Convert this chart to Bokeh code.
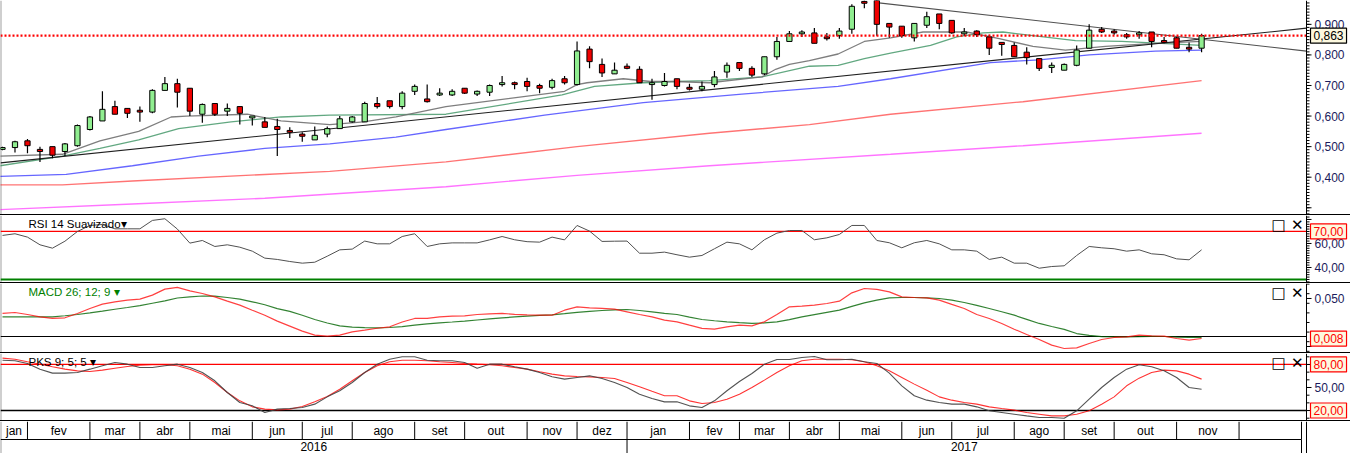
import numpy as np
from bokeh.plotting import figure
from bokeh.layouts import column
from bokeh.models import Range1d, Label, Div, ColumnDataSource
from bokeh.embed import file_html
from bokeh.resources import INLINE
from bokeh.core.properties import value

FONT = "Liberation Sans"

# ---------------- data (weekly candles, week 0 = 2016-01-18) ----------------
weeks = list(range(97))
opens = [0.491,0.497,0.519,0.491,0.500,0.484,0.503,0.556,0.584,0.631,
         0.625,0.619,0.613,0.684,0.706,0.691,0.606,0.641,0.616,0.631,
         0.594,0.581,0.566,0.553,0.541,0.522,0.541,0.559,0.581,0.581,
         0.641,0.650,0.631,0.681,0.656,0.669,0.669,0.691,0.672,0.678,
         0.703,0.709,0.713,0.700,0.694,0.722,0.703,0.819,0.769,0.738,
         0.763,0.753,0.703,0.700,0.722,0.694,0.688,0.703,0.744,0.775,
         0.756,0.738,0.794,0.844,0.869,0.872,0.859,0.863,0.884,0.975,
         0.985,0.903,0.894,0.856,0.897,0.934,0.913,0.869,0.878,0.859,
         0.841,0.831,0.809,0.788,0.759,0.750,0.766,0.822,0.884,0.878,
         0.866,0.866,0.875,0.847,0.856,0.825,0.822]
highs = [0.500,0.519,0.525,0.500,0.500,0.512,0.572,0.600,0.681,0.650,
         0.625,0.631,0.688,0.728,0.722,0.691,0.641,0.641,0.641,0.631,
         0.600,0.597,0.591,0.563,0.547,0.566,0.566,0.600,0.600,0.647,
         0.662,0.650,0.681,0.703,0.703,0.691,0.688,0.691,0.684,0.703,
         0.731,0.713,0.725,0.706,0.722,0.731,0.844,0.828,0.788,0.775,
         0.772,0.763,0.722,0.741,0.722,0.706,0.713,0.747,0.775,0.775,
         0.763,0.794,0.859,0.878,0.881,0.888,0.872,0.888,0.966,0.978,
         0.990,0.903,0.894,0.903,0.941,0.934,0.913,0.888,0.881,0.866,
         0.841,0.841,0.825,0.788,0.775,0.772,0.831,0.900,0.891,0.884,
         0.872,0.878,0.875,0.859,0.859,0.841,0.869]
lows = [0.488,0.481,0.478,0.450,0.462,0.469,0.500,0.553,0.584,0.606,
        0.594,0.581,0.609,0.684,0.628,0.600,0.578,0.600,0.600,0.572,
        0.569,0.563,0.469,0.528,0.516,0.522,0.531,0.559,0.578,0.581,
        0.625,0.625,0.622,0.669,0.644,0.666,0.666,0.672,0.666,0.666,
        0.697,0.688,0.681,0.675,0.688,0.703,0.700,0.756,0.728,0.738,
        0.753,0.709,0.653,0.697,0.688,0.684,0.681,0.694,0.725,0.747,
        0.728,0.734,0.784,0.844,0.859,0.838,0.847,0.853,0.869,0.953,
        0.863,0.856,0.856,0.844,0.888,0.884,0.869,0.863,0.859,0.800,
        0.797,0.794,0.769,0.747,0.741,0.750,0.763,0.822,0.872,0.866,
        0.853,0.853,0.825,0.838,0.822,0.809,0.809]
closes = [0.497,0.516,0.503,0.484,0.472,0.509,0.569,0.597,0.622,0.606,
          0.609,0.613,0.684,0.706,0.678,0.616,0.638,0.606,0.625,0.609,
          0.600,0.563,0.556,0.547,0.534,0.537,0.559,0.591,0.597,0.641,
          0.631,0.631,0.675,0.697,0.647,0.675,0.681,0.675,0.681,0.700,
          0.709,0.703,0.697,0.691,0.716,0.709,0.813,0.778,0.741,0.750,
          0.756,0.709,0.709,0.713,0.697,0.688,0.697,0.728,0.766,0.756,
          0.734,0.794,0.844,0.869,0.875,0.838,0.853,0.878,0.959,0.969,
          0.900,0.891,0.863,0.903,0.925,0.903,0.872,0.875,0.866,0.822,
          0.834,0.794,0.791,0.756,0.766,0.769,0.816,0.881,0.875,0.872,
          0.859,0.872,0.844,0.841,0.822,0.819,0.863]

# moving averages (week index, price)
ma_fast_x = [-0.2,4.8,7.8,10.9,13.5,14.7,19.6,22.3,26.2,28.9,31.5,35.5,45,46,46.8,49.7,51.9,
             53.9,56.6,60.8,61.9,63,64.6,66.9,69,71.1,73.7,77.2,79.8,82.5,85.1,88.3,92.3,96]
ma_fast_y = [0.469,0.475,0.519,0.550,0.597,0.600,0.606,0.584,0.572,0.581,0.597,0.631,0.681,
             0.703,0.709,0.722,0.713,0.713,0.709,0.728,0.753,0.769,0.781,0.803,0.844,0.856,
             0.875,0.875,0.853,0.828,0.816,0.828,0.838,0.844]
ma_green_x = [-0.2,4.8,7.8,10.9,14.1,18.3,22.3,26.2,35.5,44.8,47.4,51.3,53.9,56.6,60.8,64.6,
              66.9,69,71.1,74.3,76.4,78.5,80.1,82.5,85.9,89.6,96]
ma_green_y = [0.4375,0.469,0.494,0.522,0.559,0.581,0.597,0.603,0.606,0.669,0.697,0.709,0.713,
              0.716,0.728,0.763,0.766,0.788,0.806,0.831,0.859,0.872,0.875,0.863,0.847,0.844,0.831]
ma_blue_x = [-0.2,5.1,10.4,15.7,21,26.2,31.5,35.5,43.4,51.3,59.2,66.9,71.1,79.1,83,87,92.3,96]
ma_blue_y = [0.403,0.409,0.4375,0.469,0.494,0.509,0.531,0.556,0.603,0.644,0.672,0.697,0.722,
             0.775,0.784,0.800,0.8125,0.816]
ma_red_x = [-0.2,4.8,10.4,21,26.2,35.5,46,56.6,64.6,71.1,81.7,96]
ma_red_y = [0.375,0.375,0.3875,0.409,0.419,0.450,0.500,0.544,0.572,0.606,0.647,0.716]
ma_mag_x = [-0.2,10.4,21,35.5,46,56.6,71.1,81.7,96]
ma_mag_y = [0.294,0.3125,0.331,0.369,0.406,0.4375,0.475,0.503,0.544]

# trend lines (two anchor points each)
trend_up_x = [-0.16, 104.4]
trend_up_y = [0.447, 0.8875]
trend_dn_x = [69.8, 104.4]
trend_dn_y = [0.972, 0.8125]

# RSI 14 smoothed
rsi = [66.7,68.1,65.3,58.9,56.1,61.9,70,75,75.8,72.2,72.2,72.2,79.2,80.6,72,60.3,62.5,57.5,
       58.9,56.9,53.6,47.8,46.7,45,43.6,44.4,49.4,54.7,55.3,62,59.7,59.7,65.8,68.1,57.5,59.7,
       60.5,60.5,60.5,63,65.8,63.1,61.5,61.1,65.3,63,75,70.3,61.7,61.9,62,51.9,51.9,52.8,
       50.6,48.6,50,55.6,61.1,59.7,54.7,63.1,68.6,70.8,70.8,63.1,64.7,67.5,75,75,62.5,60.6,
       56.4,60.6,62.5,59.7,54.7,54.7,53.6,46.7,48.6,43.6,43.6,39.4,40.8,41.4,50,57.5,56.4,
       55.6,53.6,54.7,51.4,50.6,47.2,46.4,54.7]
rsi_hi, rsi_lo = 70, 30

# MACD 26;12;9
macd = [0.0344,0.0354,0.0333,0.0309,0.0292,0.0299,0.0344,0.0396,0.0441,0.0465,0.0483,0.0493,
        0.0535,0.0597,0.0615,0.0580,0.0552,0.0517,0.0472,0.0431,0.0378,0.0326,0.0264,0.0212,
        0.0160,0.0118,0.0108,0.0118,0.0153,0.0170,0.0190,0.0205,0.0255,0.0292,0.0292,0.0309,
        0.0316,0.0319,0.0333,0.0340,0.0344,0.0335,0.0330,0.0326,0.0326,0.0378,0.0413,0.0403,
        0.0396,0.0389,0.0361,0.0333,0.0309,0.0275,
        0.0257,0.0222,0.0188,0.0180,0.0205,0.0222,0.0215,0.0257,0.0333,0.0413,0.0420,0.0431,
        0.0448,0.0472,0.0559,0.0604,0.0594,0.0569,0.0517,0.0510,0.0507,0.0483,0.0438,0.0396,
        0.0333,0.0292,0.0240,0.0180,0.0125,0.0073,0.0014,-0.0021,-0.0014,0.0031,0.0073,0.0094,
        0.0101,0.0118,0.0111,0.0108,0.0083,0.0066,0.0083]
macd_signal = [0.0309,0.0309,0.0309,0.0309,0.0309,0.0320,0.0333,0.0350,0.0368,0.0388,0.0406,
               0.0425,0.0450,0.0475,0.0505,0.0517,0.0526,0.0524,0.0510,0.0493,0.0465,0.0435,
               0.0395,0.0365,0.0325,0.0281,0.0245,0.0215,0.0202,0.0196,0.0194,0.0198,0.0207,
               0.0222,0.0235,0.0246,0.0255,0.0265,0.0276,0.0287,0.0298,0.0308,0.0316,0.0324,
               0.0330,0.0342,0.0355,0.0366,0.0375,0.0382,0.0385,0.0375,0.0361,0.0345,
               0.0333,0.0305,0.0281,0.0268,0.0257,0.0248,0.0240,0.0245,0.0257,0.0280,0.0309,
               0.0332,0.0355,0.0378,0.0418,0.0455,0.0483,0.0507,0.0510,0.0510,0.0506,0.0500,
               0.0482,0.0458,0.0428,0.0396,0.0362,0.0326,0.0283,0.0240,0.0208,0.0178,0.0135,
               0.0115,0.0103,0.0101,0.0101,0.0102,0.0106,0.0104,0.0097,0.0094,0.0094]
macd_level = 0.0104

# PKS 9;5;5
pks_k = [85.6,84.8,81.3,73.9,68.7,68.7,69.6,73.9,78.3,82.6,80.4,76.1,76.1,78.3,80.4,76.1,69.6,
         58.7,43.5,30.5,26.1,17.4,21.8,22.6,23.9,28.3,37.8,45.7,56.5,69.6,80.4,86.9,90,90,85.6,
         84.8,84.8,82.6,75.2,80.4,80.4,77,73.9,69.6,63.9,60.9,63,65.2,61.7,56.5,50,41.3,35.7,
         31.3,
         31.3,26.1,23.9,32.6,45.7,57.8,68.3,80.4,86.5,86.5,89.1,90.4,86.1,86.1,86.9,83.5,81.3,
         68.7,52.2,39.2,33.5,30.5,28.3,28.3,24.8,19.6,17.4,15.2,13,10.9,10.9,10,19.6,34.8,50,
         63,73.9,79.6,77,71.7,63,50,47.8]
pks_d = [88.3,86.9,83.5,80.4,77,73.9,71.7,70.9,72.6,75,77.4,79.1,79.6,79.6,78.3,73.9,67.4,
         56.5,43.5,32.6,24.8,21.8,20.9,21.8,25.2,31.3,38.3,47.8,58.7,69.6,78.3,83.5,85.6,85.6,
         84.8,83.5,82.6,81.3,80.4,79.6,78.3,76.1,73.9,70.5,67.4,65.2,64.4,63.9,63,61.7,56.5,
         50.9,45,39.2,
         39.2,32.6,29.2,30.5,34.8,41.3,50,59.6,69.6,78.3,84.8,86.9,86.9,86.9,86.1,83.5,78.3,
         71.7,63,54.4,46.5,37.8,33.5,30.5,28.3,24.8,22.6,20.5,17.4,15.2,13,13,15.2,19.6,28.3,
         37.8,52.2,62.2,69.6,72.6,71.7,67.4,60.9]
pks_hi, pks_lo = 80, 20

# axis tick values
price_ticks = [0.4, 0.5, 0.6, 0.7, 0.8, 0.9]
rsi_ticks = [40, 60]
macd_ticks = [0.05]
pks_ticks = [50]

# date axis cells (first week index of each month)
month_labels = ["jan","fev","mar","abr","mai","jun","jul","ago","set","out","nov","dez",
                "jan","fev","mar","abr","mai","jun","jul","ago","set","out","nov",""]
month_start = [-0.16,2,7,11,15,20,24,28,33,37,42,46,50,55,59,63,67,72,76,81,85,89,94,99]
axis_end = 104.0
year_labels = ["2016", "2017"]
year_start = [-0.16, 50]

# ---------------- layout ----------------
W = 1350
PLOT_W = 1306
X0, AXIS_X = -0.16, 104.4
PX = (AXIS_X - X0) / PLOT_W            # weeks per screen pixel
xr = Range1d(X0, X0 + W * PX)          # frame covers the axis column too
LABEL_BG = "#fdf9df"
AXIS_COLOR = "#1b1b5c"


def make_fig(h, yr):
    p = figure(width=W, height=h, x_range=xr, y_range=yr, output_backend="svg",
               toolbar_location=None, x_axis_location=None, y_axis_location=None,
               min_border=0, outline_line_color=None,
               background_fill_color="white", border_fill_color="white")
    p.grid.visible = False
    # window frame on the left
    p.segment(x0=[X0], y0=[yr.start], x1=[X0], y1=[yr.end], line_color="#a0a0a0",
              line_width=2)
    return p


def fmt(v, digits):
    return ("%.*f" % (digits, v)).replace(".", ",")


def draw_axis(p, yr, majors, minors, labeled, digits):
    p.segment(x0=[AXIS_X], y0=[yr.start], x1=[AXIS_X], y1=[yr.end],
              line_color="black", line_width=1)
    p.segment(x0=[AXIS_X] * len(minors), y0=minors, x1=[AXIS_X + 3 * PX] * len(minors),
              y1=minors, line_color="black", line_width=1)
    p.segment(x0=[AXIS_X] * len(majors), y0=majors, x1=[AXIS_X + 5 * PX] * len(majors),
              y1=majors, line_color="black", line_width=1)
    p.text(x=[AXIS_X] * len(labeled), y=labeled, text=[fmt(v, digits) for v in labeled],
           x_offset=8, text_align="left", text_baseline="middle", text_font=value(FONT),
           text_font_size="12px", text_color=AXIS_COLOR)


def hline(p, y, color, width, dash="solid"):
    p.segment(x0=[X0], y0=[y], x1=[AXIS_X], y1=[y], line_color=color, line_width=width,
              line_dash=dash)


def value_box(p, y, text, color):
    p.add_layout(Label(x=AXIS_X, y=y, text=text, x_offset=4, text_align="left",
                       text_baseline="middle", text_font=FONT, text_font_size="12px",
                       text_color=color, background_fill_color=LABEL_BG,
                       border_line_color=color, border_line_width=1.2, padding=3))


def panel_title(p, h, text, color):
    p.add_layout(Label(x=28, y=h - 2, x_units="screen", y_units="screen", text=text,
                       text_align="left", text_baseline="top", text_font=FONT,
                       text_font_size="11.5px", text_color=color))
    p.add_layout(Label(x=PLOT_W - 3, y=h, x_units="screen", y_units="screen",
                       text="□ ✕", text_align="right", text_baseline="top",
                       text_font="DejaVu Sans", text_font_size="15px",
                       text_font_style="bold", text_color="black"))


def sep():
    return Div(text="", width=W, height=1, margin=(0, 0, 0, 0),
               styles={"background-color": "black", "overflow": "hidden"})


# ---------------- main price panel ----------------
H_MAIN = 214
yr_main = Range1d(0.278, 0.978)
p = make_fig(H_MAIN, yr_main)

for xs, ys, col, alpha, lw in [
        (ma_mag_x, ma_mag_y, "#ff00ff", 0.55, 1.4),
        (ma_red_x, ma_red_y, "#ff0000", 0.55, 1.4),
        (ma_blue_x, ma_blue_y, "#0000ff", 0.6, 1.3),
        (ma_green_x, ma_green_y, "#2e8b57", 0.75, 1.3),
        (ma_fast_x, ma_fast_y, "#707070", 0.9, 1.3)]:
    p.line(xs, ys, line_color=col, line_alpha=alpha, line_width=lw)

p.line(trend_up_x, trend_up_y, line_color="#202020", line_width=1.1)
p.line(trend_dn_x, trend_dn_y, line_color="#505050", line_width=1.1)

up = [c >= o for o, c in zip(opens, closes)]
src = ColumnDataSource(dict(
    x=weeks, high=highs, low=lows,
    top=[max(o, c) for o, c in zip(opens, closes)],
    bottom=[min(o, c) for o, c in zip(opens, closes)],
    color=["#90ee90" if u else "#f00000" for u in up]))
p.segment(x0="x", y0="low", x1="x", y1="high", source=src, line_color="black", line_width=1.2)
p.vbar(x="x", width=0.42, top="top", bottom="bottom", source=src, fill_color="color",
       line_color="black", line_width=1)

last_price = closes[-1]
hline(p, last_price, "#ff0000", 2.2, "2 2")
draw_axis(p, yr_main, [0.3] + price_ticks,
          [round(v, 2) for v in np.arange(0.28, 0.98, 0.01)], price_ticks, 3)
value_box(p, last_price, fmt(last_price, 3), "black")

# ---------------- RSI panel ----------------
H_RSI = 67
yr_rsi = Range1d(27.5, 83.3)
pr = make_fig(H_RSI, yr_rsi)
hline(pr, rsi_hi, "#ff0000", 1.3)
hline(pr, rsi_lo, "#008000", 1.8)
pr.line(weeks, rsi, line_color="#505050", line_width=1)
draw_axis(pr, yr_rsi, rsi_ticks + [80], list(range(28, 84, 2)), rsi_ticks, 2)
value_box(pr, rsi_hi, fmt(rsi_hi, 2), "#ff0000")
panel_title(pr, H_RSI, "RSI 14 Suavizado▾", "black")

# ---------------- MACD panel ----------------
H_MACD = 69
yr_macd = Range1d(-0.00625, 0.0656)
pm = make_fig(H_MACD, yr_macd)
hline(pm, macd_level, "black", 1.2)
pm.line(weeks, macd_signal, line_color="#006400", line_alpha=0.8, line_width=1.2)
pm.line(weeks, macd, line_color="#ff0000", line_alpha=0.75, line_width=1.2)
draw_axis(pm, yr_macd, [0.0] + macd_ticks,
          [round(v, 3) for v in np.arange(-0.005, 0.066, 0.01)], macd_ticks, 3)
value_box(pm, macd[-1], fmt(macd[-1], 3), "#ff0000")
panel_title(pm, H_MACD, "MACD 26; 12; 9 ▾", "#008000")

# ---------------- PKS panel ----------------
H_PKS = 67
yr_pks = Range1d(7, 94.3)
pk = make_fig(H_PKS, yr_pks)
hline(pk, pks_hi, "#ff0000", 1.3)
hline(pk, pks_lo, "black", 1.3)
pk.line(weeks, pks_d, line_color="#ff0000", line_alpha=0.8, line_width=1.1)
pk.line(weeks, pks_k, line_color="#404040", line_alpha=0.9, line_width=1.1)
draw_axis(pk, yr_pks, [20, 50, 80], list(range(10, 95, 10)), pks_ticks, 2)
value_box(pk, pks_hi, fmt(pks_hi, 2), "#ff0000")
value_box(pk, pks_lo, fmt(pks_lo, 2), "#ff0000")
panel_title(pk, H_PKS, "PKS 9; 5; 5 ▾", "black")

# ---------------- date axis ----------------
H_DATE = 32
ROW = 14  # year row height
pdx = make_fig(H_DATE, Range1d(0, H_DATE))
m_edges = month_start + [axis_end]
pdx.segment(x0=m_edges[1:], y0=[ROW] * (len(m_edges) - 1), x1=m_edges[1:],
            y1=[H_DATE] * (len(m_edges) - 1), line_color="black", line_width=1)
y_edges = year_start + [axis_end]
pdx.segment(x0=y_edges[1:], y0=[0] * (len(y_edges) - 1), x1=y_edges[1:],
            y1=[ROW] * (len(y_edges) - 1), line_color="black", line_width=1)
pdx.segment(x0=[X0], y0=[ROW], x1=[axis_end], y1=[ROW], line_color="black", line_width=1)
pdx.segment(x0=[AXIS_X], y0=[0], x1=[AXIS_X], y1=[H_DATE], line_color="black", line_width=1)
m_mid = [(a + b) / 2 for a, b in zip(m_edges[:-1], m_edges[1:])]
pdx.text(x=m_mid, y=[(ROW + H_DATE) / 2] * len(m_mid), text=month_labels,
         text_align="center", text_baseline="middle", text_font=value(FONT),
         text_font_size="12px", text_color="black")
y_mid = [(a + b) / 2 for a, b in zip(y_edges[:-1], y_edges[1:])]
pdx.text(x=y_mid, y=[ROW / 2] * len(y_mid), text=year_labels, text_align="center",
         text_baseline="middle", text_font=value(FONT), text_font_size="12px",
         text_color="black")

layout = column(p, sep(), pr, sep(), pm, sep(), pk, sep(), pdx, spacing=0)

with open("out.html", "w") as f:
    f.write(file_html(layout, INLINE))
